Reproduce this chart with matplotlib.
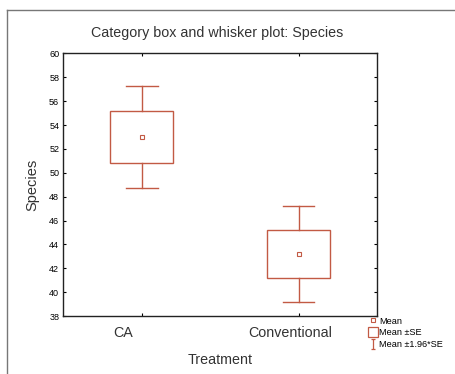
import numpy as np
import matplotlib
matplotlib.use("Agg")
import matplotlib.pyplot as plt
import matplotlib.transforms as mtransforms
from matplotlib.lines import Line2D
from matplotlib.patches import Rectangle
from matplotlib.path import Path

plt.rcParams['font.family'] = ['Liberation Sans', 'DejaVu Sans']

categories = ['CA', 'Conventional']
means = [53.0, 43.2]
se = [2.2, 2.05]
yticks = [38, 40, 42, 44, 46, 48, 50, 52, 54, 56, 58, 60]

col = '#c25a44'
pos = np.arange(1, len(categories) + 1)
box_w = 0.4
cap_w = 0.2

fig = plt.figure(figsize=(4.56, 3.74), dpi=100)
ax = fig.add_axes([0.139, 0.155, 0.688, 0.702])

for x, m, s in zip(pos, means, se):
    lo, hi = m - 1.96 * s, m + 1.96 * s
    ax.add_patch(Rectangle((x - box_w / 2, m - s), box_w, 2 * s,
                           fill=False, ec=col, lw=1.0))
    ax.plot([x, x], [m + s, hi], color=col, lw=1.0)
    ax.plot([x, x], [lo, m - s], color=col, lw=1.0)
    ax.plot([x - cap_w / 2, x + cap_w / 2], [hi, hi], color=col, lw=1.0)
    ax.plot([x - cap_w / 2, x + cap_w / 2], [lo, lo], color=col, lw=1.0)
    ax.plot(x, m, marker='s', ms=3, mfc='none', mec=col, mew=0.8, ls='none')

ax.set_xlim(0.5, 2.5)
ax.set_ylim(38, 60)
ax.set_yticks(yticks)
ax.set_xticks(pos)
ax.set_xticklabels(categories, fontsize=10.3, color='#333333')
ax.tick_params(axis='y', labelsize=6.5, direction='in', length=2, right=True, pad=3)
ax.tick_params(axis='x', direction='in', length=2, top=True, pad=7.5)
for lab, dx in zip(ax.get_xticklabels(), [-19, -8]):
    lab.set_transform(lab.get_transform() +
                      mtransforms.ScaledTranslation(dx / 100, 0, fig.dpi_scale_trans))
for sp in ax.spines.values():
    sp.set_linewidth(1.0)
    sp.set_color('#222222')

ax.set_xlabel('Treatment', fontsize=10.3, color='#333333', labelpad=9)
ax.set_ylabel('Species', fontsize=10.5, color='#333333', labelpad=7)
fig.text(0.476, 0.913, 'Category box and whisker plot: Species',
         ha='center', va='center', fontsize=10.3, color='#333333')

# "I" shaped marker for the 1.96*SE whisker in the legend
ibar = Path([(-0.5, 1), (0.5, 1), (0, 1), (0, -1), (-0.5, -1), (0.5, -1)],
            [Path.MOVETO, Path.LINETO, Path.MOVETO, Path.LINETO,
             Path.MOVETO, Path.LINETO])
handles = [
    Line2D([], [], marker='s', ms=3, mfc='none', mec=col, mew=0.8, ls='none'),
    Line2D([], [], marker='s', ms=7.5, mfc='none', mec=col, mew=0.9, ls='none'),
    Line2D([], [], marker=ibar, ms=7, mfc='none', mec=col, mew=0.9, ls='none'),
]
fig.legend(handles, ['Mean', 'Mean ±SE', 'Mean ±1.96*SE'],
           loc='upper left', bbox_to_anchor=(0.80, 0.163), frameon=False,
           fontsize=6.6, handlelength=1.0, handletextpad=0.15,
           labelspacing=0.3, borderaxespad=0)

# frame around the whole figure
fig.add_artist(Line2D([0.015, 1.0], [0.973, 0.973], color='#777777', lw=1.0,
                      transform=fig.transFigure))
fig.add_artist(Line2D([0.015, 0.015], [0.0, 0.973], color='#777777', lw=1.0,
                      transform=fig.transFigure))

fig.savefig('out.png', dpi=100)
